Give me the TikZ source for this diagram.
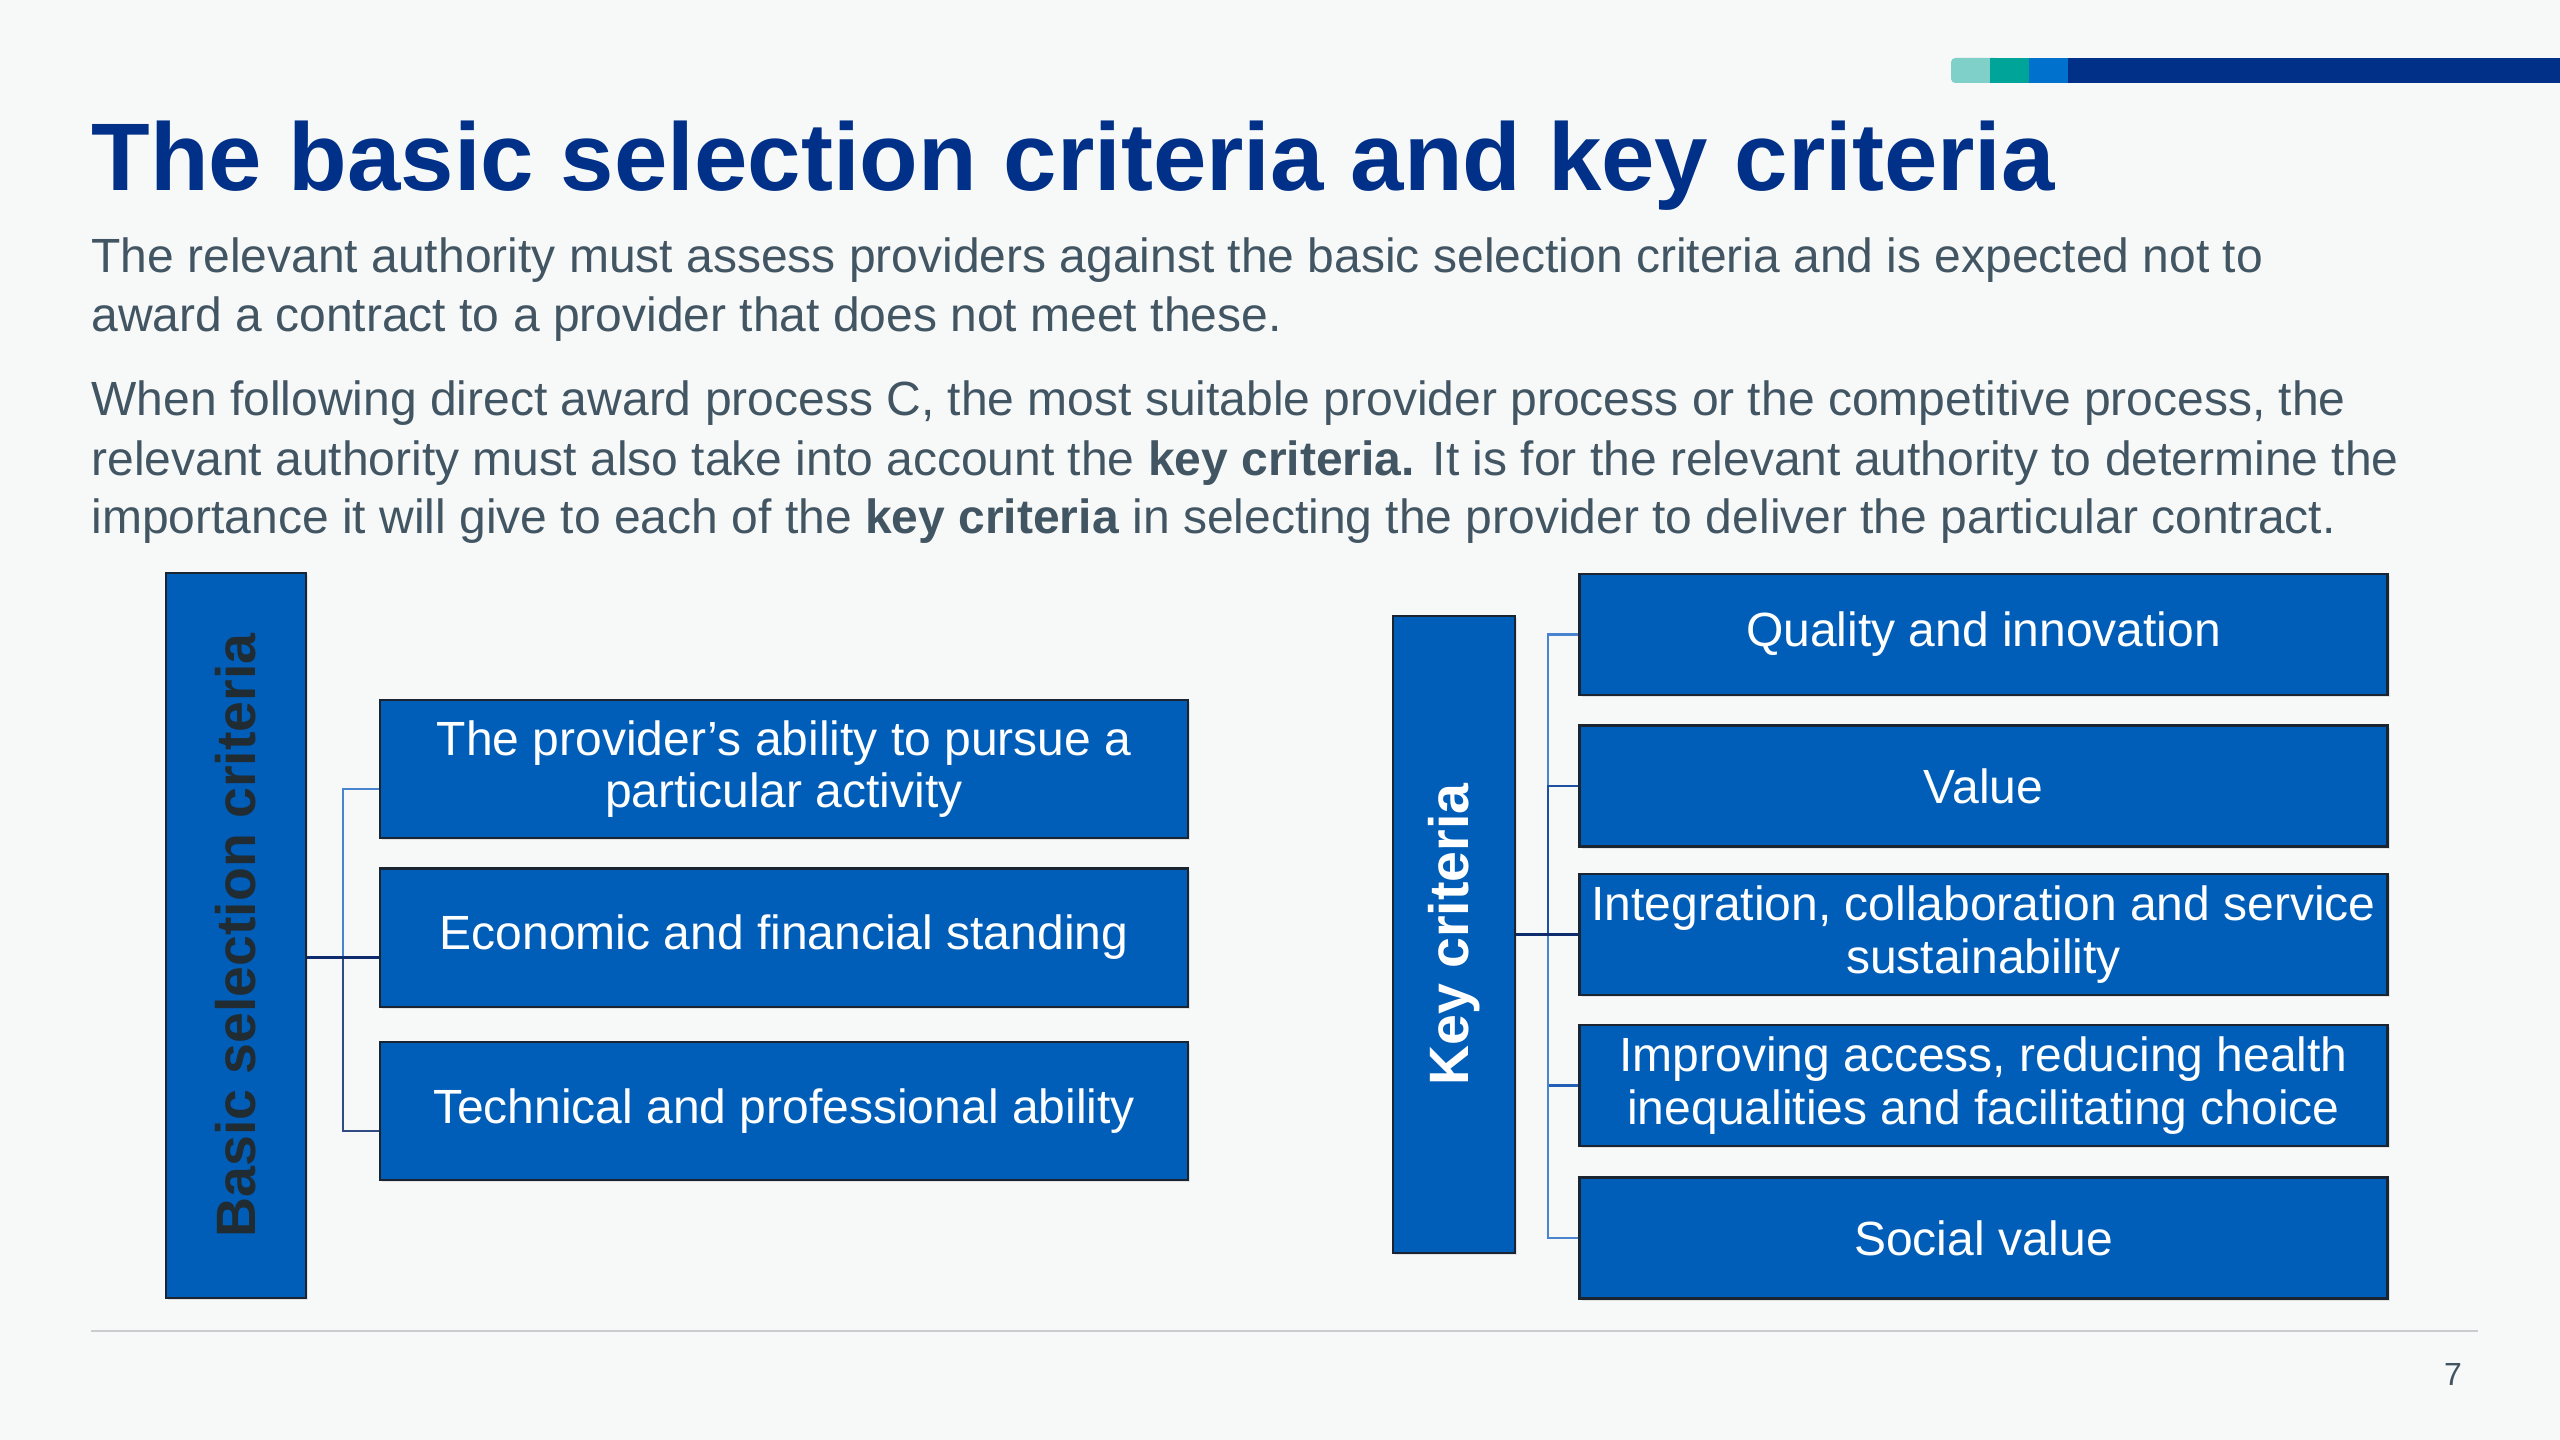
\documentclass[tikz,border=0pt]{standalone}
\usepackage{fontspec}
\setmainfont{Liberation Sans}
\usetikzlibrary{calc,shadows}
\definecolor{bg}{HTML}{F7F8F8}
\definecolor{nhsblue}{HTML}{005EB8}
\definecolor{navy}{HTML}{003087}
\definecolor{txt}{HTML}{425563}
\definecolor{edgec}{HTML}{1B2532}
\definecolor{darklbl}{HTML}{212B32}
\definecolor{barlight}{HTML}{7FD0C8}
\definecolor{barteal}{HTML}{00A499}
\definecolor{barblue}{HTML}{0072CE}
\definecolor{clightc}{HTML}{4A84CF}
\definecolor{cmidc}{HTML}{2360B5}
\definecolor{cdarkc}{HTML}{0E2B6E}
\definecolor{rulec}{HTML}{C9CDD0}
\begin{document}
\begin{tikzpicture}[x=0.375pt,y=-0.375pt,
  boxbase/.style={draw=edgec, line width=0.8pt, fill=nhsblue, inner sep=2pt,
    drop shadow={opacity=0.18, shadow xshift=0.9pt, shadow yshift=-0.9pt}},
  itembox/.style={boxbase, text=white, align=center,
    minimum width=303pt, font=\fontsize{18}{19.6}\selectfont},
  leftitem/.style={itembox, minimum height=51.8pt},
  rightitem/.style={itembox, minimum height=45.4pt},
  vlabel/.style={rotate=90, inner sep=0pt, font=\fontsize{20.8}{24}\selectfont\bfseries},
  bodyline/.style={anchor=base west, inner sep=0pt, text=txt, font=\fontsize{18}{22}\selectfont},
  conn/.style={line width=0.9pt},
]
\fill[bg] (0,0) rectangle (2560,1440);
\useasboundingbox (0,0) rectangle (2560,1440);

% top colour bar
\fill[barlight, rounded corners=1.6pt] (1951,58) rectangle (2000,83);
\fill[barteal] (1990,58) rectangle (2029,83);
\fill[barblue] (2029,58) rectangle (2068,83);
\fill[navy] (2068,58) rectangle (2560,83);

% title
\node[anchor=base west, inner sep=0pt, text=navy, font=\fontsize{36}{40}\selectfont\bfseries] (title) at (91,191)
  {The basic selection criteria and key criteria};

% body text
\node[bodyline] (p1a) at (91,273) {The relevant authority must assess providers against the basic selection criteria and is expected not to};
\node[bodyline] (p1b) at (91,332) {award a contract to a provider that does not meet these.};
\node[bodyline] (p2a) at (91,416) {When following direct award process C, the most suitable provider process or the competitive process, the};
\node[bodyline] (p2b) at (91,475) {relevant authority must also take into account the \textbf{key criteria.} It is for the relevant authority to determine the};
\node[bodyline] (p2c) at (91,534) {importance it will give to each of the \textbf{key criteria} in selecting the provider to deliver the particular contract.};

% left group
\node[boxbase, minimum width=52.5pt, minimum height=271.9pt] (L) at (236,935.5) {};
\node[vlabel, text=darklbl] (Lt) at (L.center) {Basic selection criteria};
\node[leftitem] (b1) at (784,769) {The provider’s ability to pursue a\\particular activity};
\node[leftitem] (b2) at (784,937.5) {Economic and financial standing};
\node[leftitem] (b3) at (784,1111) {Technical and professional ability};

\path ([yshift=-7.5pt]b1.west) coordinate (p1)
      ([yshift=-7.5pt]b2.west) coordinate (p2)
      ([yshift=-7.5pt]b3.west) coordinate (p3);
\coordinate (lx) at (343,0);
\coordinate (lj) at (lx |- p2);
\draw[conn, clightc] (p1) -| (lj);
\draw[conn, cdarkc!85!white] (p3) -| (lj);
\draw[conn, cdarkc] (L.east |- p2) -- (p2);

% right group
\node[boxbase, minimum width=45.75pt, minimum height=238.9pt] (K) at (1454,934.5) {};
\node[vlabel, text=white] (Kt) at (K.center) {Key criteria};
\node[rightitem] (r1) at (1983.5,634.5) {Quality and innovation};
\node[rightitem] (r2) at (1983.5,786) {Value};
\node[rightitem] (r3) at (1983.5,934.5) {Integration, collaboration and service\\sustainability};
\node[rightitem] (r4) at (1983.5,1085.5) {Improving access, reducing health\\inequalities and facilitating choice};
\node[rightitem] (r5) at (1983.5,1238) {Social value};

\coordinate (rx) at (1548,0);
\coordinate (rj) at (rx |- K.east);
\draw[conn, clightc] (r1.west) -| (rj);
\draw[conn, cmidc!70!cdarkc] (r2.west) -| (rj);
\draw[conn, cmidc] (r4.west) -| (rj);
\draw[conn, clightc] (r5.west) -| (rj);
\draw[conn, cdarkc] (K.east) -- (K.east -| r3.west);

% footer
\draw[rulec, line width=0.8pt] (91,1331) -- (2478,1331);
\node[inner sep=0pt, text=txt, font=\fontsize{12}{14}\selectfont] (pg) at (2453,1374) {7};
\end{tikzpicture}
\end{document}
